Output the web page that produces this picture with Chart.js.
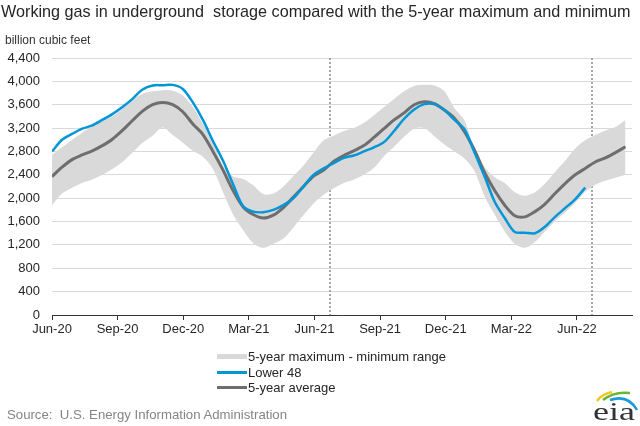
<!DOCTYPE html>
<html>
<head>
<meta charset="utf-8">
<script src="https://cdn.jsdelivr.net/npm/chart.js@4"></script>
<style>
  body { margin: 0; background: #fff; font-family: "Liberation Sans", Arial, sans-serif; }
  #wrap { position: relative; width: 640px; height: 426px; overflow: hidden; }
  #chart { position: absolute; left: 0; top: 0; }
  .txt { position: absolute; white-space: pre; color: #262626; }
  #title { left: 1px; top: 2px; font-size: 16.2px; }
  #unit { left: 5px; top: 33px; font-size: 12px; color: #333; }
  #legend { position: absolute; left: 217px; top: 349px; font-size: 13px; color: #262626; }
  .leg-row { height: 15.5px; line-height: 15.5px; display: flex; align-items: center; white-space: nowrap; }
  .sw { width: 30px; margin-right: 1px; display: inline-block; }
  #source { left: 7px; top: 407px; font-size: 13.2px; color: #858585; }
  #logo { position: absolute; left: 590px; top: 384px; }
</style>
</head>
<body>
<div id="wrap">
  <canvas id="chart" width="640" height="426"></canvas>
  <div class="txt" id="title">Working gas in underground  storage compared with the 5-year maximum and minimum</div>
  <div class="txt" id="unit">billion cubic feet</div>
  <div id="legend">
    <div class="leg-row"><span class="sw" style="height:5px;background:#d9d9d9"></span>5-year maximum - minimum range</div>
    <div class="leg-row"><span class="sw" style="height:3px;background:#0096d7"></span>Lower 48</div>
    <div class="leg-row"><span class="sw" style="height:3px;background:#6e6e6e"></span>5-year average</div>
  </div>
  <div class="txt" id="source">Source:  U.S. Energy Information Administration</div>
  <svg id="logo" width="50" height="42" viewBox="0 0 50 42">
    <path d="M7 17 Q12 10 22 8" stroke="#f2c81e" stroke-width="2.5" fill="none"/>
    <path d="M13 16 Q24 7 40 9" stroke="#6ab536" stroke-width="2.5" fill="none"/>
    <path d="M20 16 Q38 10 47 26" stroke="#1a9ad6" stroke-width="2.5" fill="none"/>
    <text x="3" y="36" font-family="Liberation Serif, DejaVu Serif, serif" font-size="26" fill="#333"
          textLength="42" lengthAdjust="spacingAndGlyphs">eia</text>
  </svg>
</div>

<script>
// Weekly data, June 2020 to August 2022 (x = weeks since first report)
const weeks = [0, 2, 4, 6, 8, 10, 12, 14, 16, 18, 20, 22, 24, 26, 28, 30, 32, 34, 36, 38,
    40, 42, 44, 46, 48, 50, 52, 54, 56, 58, 60, 62, 64, 66, 68, 70, 72, 74, 76, 78,
    80, 82, 84, 86, 88, 90, 92, 94, 96, 98, 100, 102, 104, 106, 108, 110, 112, 114];

// Lower 48 working gas (ends at week 106)
const lower48 = [2800, 3000, 3100, 3190, 3245, 3340, 3440, 3560, 3700, 3860, 3930, 3935, 3940, 3870, 3640, 3340, 2980, 2640, 2240, 1860,
    1770, 1760, 1800, 1880, 2000, 2200, 2400, 2510, 2600, 2690, 2730, 2800, 2870, 2960, 3150, 3360, 3520, 3610, 3610, 3510,
    3340, 3180, 2780, 2370, 1940, 1660, 1420, 1410, 1400, 1510, 1680, 1830, 1980, 2180];

// 5-year average
const avg5yr = [2370, 2530, 2660, 2740, 2810, 2900, 3010, 3160, 3330, 3490, 3600, 3640, 3600, 3480, 3270, 3090, 2800, 2480, 2130, 1850,
    1720, 1660, 1710, 1840, 2020, 2200, 2380, 2480, 2630, 2730, 2810, 2900, 3040, 3190, 3340, 3460, 3600, 3650, 3620, 3510,
    3370, 3140, 2820, 2440, 2130, 1880, 1700, 1680, 1770, 1900, 2080, 2250, 2400, 2510, 2620, 2690, 2780, 2880];

// 5-year maximum and minimum
const max5yr = [2740, 2870, 3000, 3120, 3230, 3330, 3400, 3530, 3680, 3790, 3830, 3850, 3840, 3760, 3560, 3270, 2950, 2560, 2370, 2330,
    2220, 2070, 2080, 2200, 2380, 2560, 2780, 2990, 3070, 3150, 3200, 3290, 3420, 3560, 3700, 3830, 3920, 3940, 3930, 3830,
    3540, 3330, 2820, 2530, 2360, 2260, 2100, 2040, 2100, 2250, 2450, 2640, 2850, 2990, 3080, 3160, 3220, 3340];
const min5yr = [1880, 2080, 2180, 2260, 2320, 2400, 2500, 2620, 2780, 2950, 3070, 3210, 3080, 2950, 2810, 2710, 2500, 2100, 1720, 1450,
    1230, 1150, 1220, 1310, 1500, 1710, 1910, 2060, 2170, 2260, 2320, 2400, 2520, 2720, 2880, 3050, 3190, 3200, 3060, 2920,
    2800, 2680, 2460, 2030, 1720, 1430, 1220, 1150, 1250, 1430, 1610, 1750, 1920, 2110, 2230, 2300, 2350, 2400];

// x axis ticks (months after Jun-20) and labels
const xTickMonths = [0, 3, 6, 9, 12, 15, 18, 21, 24];
const xTickLabels = ['Jun-20', 'Sep-20', 'Dec-20', 'Mar-21', 'Jun-21', 'Sep-21', 'Dec-21', 'Mar-22', 'Jun-22'];
// dotted reference lines (weeks)
const markerWeeks = [55.2, 107.3];

const WEEKS_PER_MONTH = 52.18 / 12;

function toPoints(values) {
    return values.map((v, i) => ({ x: weeks[i], y: v }));
}

// Dotted vertical lines
const markerLines = {
    id: 'markerLines',
    beforeDatasetsDraw(chart) {
        const ctx = chart.ctx;
        const xs = chart.scales.x;
        const area = chart.chartArea;
        ctx.save();
        ctx.strokeStyle = '#a6a6a6';
        ctx.lineWidth = 2;
        ctx.setLineDash([2, 2]);
        markerWeeks.forEach(w => {
            const px = Math.round(xs.getPixelForValue(w));
            ctx.beginPath();
            ctx.moveTo(px, area.top);
            ctx.lineTo(px, area.bottom);
            ctx.stroke();
        });
        ctx.restore();
    }
};

const chart = new Chart(document.getElementById('chart'), {
    type: 'line',
    data: {
        datasets: [
            {
                label: 'Lower 48',
                data: toPoints(lower48),
                borderColor: '#0096d7',
                borderWidth: 2.5,
                pointRadius: 0,
                tension: 0.3,
                fill: false,
                order: 0
            },
            {
                label: '5-year average',
                data: toPoints(avg5yr),
                borderColor: '#6e6e6e',
                borderWidth: 3,
                pointRadius: 0,
                tension: 0.3,
                fill: false,
                order: 1
            },
            {
                label: '5-year maximum',
                data: toPoints(max5yr),
                borderWidth: 0,
                borderColor: 'rgba(0,0,0,0)',
                backgroundColor: '#d9d9d9',
                pointRadius: 0,
                tension: 0.3,
                fill: '+1',
                order: 2
            },
            {
                label: '5-year minimum',
                data: toPoints(min5yr),
                borderWidth: 0,
                borderColor: 'rgba(0,0,0,0)',
                pointRadius: 0,
                tension: 0.3,
                fill: false,
                order: 3
            }
        ]
    },
    options: {
        responsive: false,
        animation: false,
        layout: { padding: { top: 58, right: 8, bottom: 0, left: 0 } },
        plugins: {
            legend: { display: false },
            tooltip: { enabled: false }
        },
        scales: {
            x: {
                type: 'linear',
                min: 0,
                max: 115.3,
                afterBuildTicks: function(scale) {
                    scale.ticks = xTickMonths.map(m => ({ value: m * WEEKS_PER_MONTH }));
                },
                afterFit: function(scale) {
                    scale.height = 111;
                },
                grid: {
                    drawOnChartArea: false,
                    drawTicks: true,
                    tickLength: 5,
                    color: '#333'
                },
                border: { display: true, color: '#333', width: 1 },
                ticks: {
                    autoSkip: false,
                    maxRotation: 0,
                    padding: 2,
                    color: '#262626',
                    font: { family: 'Liberation Sans', size: 13 },
                    callback: function(value, index) {
                        return xTickLabels[index];
                    }
                }
            },
            y: {
                min: 0,
                max: 4400,
                afterFit: function(scale) {
                    scale.width = 52;
                },
                grid: {
                    color: '#d9d9d9',
                    lineWidth: 1,
                    drawTicks: false
                },
                border: { display: false },
                ticks: {
                    stepSize: 400,
                    padding: 12,
                    color: '#262626',
                    font: { family: 'Liberation Sans', size: 13 },
                    callback: function(value) {
                        return value.toLocaleString('en-US');
                    }
                }
            }
        }
    },
    plugins: [markerLines]
});
</script>
</body>
</html>
